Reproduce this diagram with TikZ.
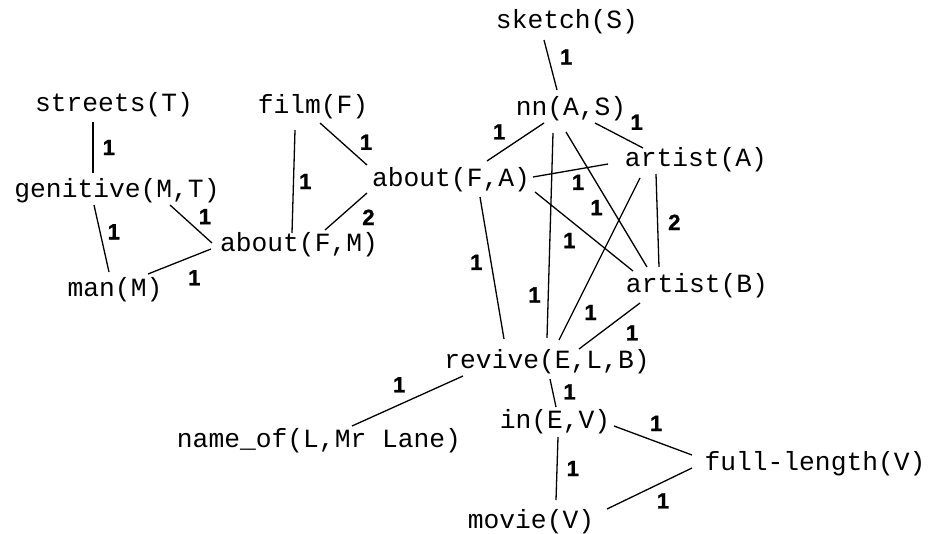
\documentclass[tikz,border=0pt]{standalone}
\usepackage{fontspec}
\newfontfamily\predfont{Liberation Mono}
\newfontfamily\wtfont{Liberation Sans Bold}[FakeBold=1.2]
\usepackage{tikz}

\begin{document}
\begin{tikzpicture}[x=1pt, y=-1pt, line width=1.3pt]

\tikzstyle{pred} = [font=\predfont\fontsize{26.3}{30}\selectfont, inner sep=0pt, text height=18.4pt, text depth=3.9pt]
\tikzstyle{wt} = [font=\wtfont\fontsize{22}{26}\selectfont, inner sep=1pt]

\useasboundingbox (0,0) rectangle (931,533);

\node[pred] (1) at (567,21) {sketch(S)};
\node[pred] (2) at (571,108) {nn(A,S)};
\node[pred] (3) at (696,159) {artist(A)};
\node[pred] (4) at (451,179) {about(F,A)};
\node[pred] (5) at (697,285) {artist(B)};
\node[pred] (6) at (547,361) {revive(E,L,B)};
\node[pred] (7) at (313,106) {film(F)};
\node[pred] (8) at (299,244) {about(F,M)};
\node[pred] (9) at (114,104) {streets(T)};
\node[pred] (10) at (117,190) {genitive(M,T)};
\node[pred] (11) at (115,289) {man(M)};
\node[pred] (12) at (319,440) {name\_of(L,Mr Lane)};
\node[pred] (13) at (555,421) {in(E,V)};
\node[pred] (14) at (815,463) {full-length(V)};
\node[pred] (15) at (531,521) {movie(V)};

\draw ([shift={(-23,19)}]1.center) -- node[wt, pos=.34, right=10pt] {1} ([shift={(-14,-18)}]2.center);
\draw ([shift={(-27,15)}]2.center) -- node[wt, pos=.58, above left=4pt] {1} ([shift={(36,-18)}]4.center);
\draw ([shift={(24,15)}]2.center) -- node[wt, pos=.58, above right=6pt] {1} ([shift={(-53,-11)}]3.center);
\draw ([shift={(-18,25)}]2.center) -- node[wt, pos=.79, left=6pt] {1} ([shift={(0,-23)}]6.center);
\draw ([shift={(-5,24)}]2.center) -- node[wt, pos=.56, left=7pt] {1} ([shift={(-50,-18)}]5.center);
\draw ([shift={(82,-2)}]4.center) -- node[wt, pos=.6, below=4pt] {1} ([shift={(-88,5)}]3.center);
\draw ([shift={(84,13)}]4.center) -- node[wt, pos=.46, below left=3pt] {1} ([shift={(-64,-14)}]5.center);
\draw ([shift={(29,18)}]4.center) -- node[wt, pos=.46, left=7pt] {1} ([shift={(-43,-22)}]6.center);
\draw ([shift={(-40,15)}]3.center) -- node[wt, pos=.52, right=9pt] {2} ([shift={(-38,-18)}]5.center);
\draw ([shift={(-56,19)}]3.center) -- node[wt, pos=.83, right=10pt] {1} ([shift={(12,-21)}]6.center);
\draw ([shift={(-57,18)}]5.center) -- node[wt, pos=.34, below right=5pt] {1} ([shift={(32,-12)}]6.center);

\draw ([shift={(7,17)}]7.center) -- node[wt, pos=.75, above right=3pt] {1} ([shift={(-84,-14)}]4.center);
\draw ([shift={(-18,24)}]7.center) -- node[wt, pos=.5, right=4pt] {1} ([shift={(-7,-11)}]8.center);
\draw ([shift={(26,-14)}]8.center) -- node[wt, pos=.73, below right=5pt] {2} ([shift={(-84,14)}]4.center);
\draw ([shift={(-21,18)}]9.center) -- node[wt, pos=.5, right=8pt] {1} ([shift={(-24,-17)}]10.center);
\draw ([shift={(-23,15)}]10.center) -- node[wt, pos=.4, right=6pt] {1} ([shift={(-6,-17)}]11.center);
\draw ([shift={(53,15)}]10.center) -- node[wt, pos=.6, above right=2pt] {1} ([shift={(-87,-1)}]8.center);
\draw ([shift={(33,-15)}]11.center) -- node[wt, pos=.5, below right=7pt] {1} ([shift={(-88,5)}]8.center);

\draw ([shift={(-84,15)}]6.center) -- node[wt, pos=.46, above left=5pt] {1} ([shift={(33,-14)}]12.center);
\draw ([shift={(3,18)}]6.center) -- node[wt, pos=.46, right=9pt] {1} ([shift={(1,-14)}]13.center);
\draw ([shift={(59,5)}]13.center) -- node[wt, pos=.54, above=9pt] {1} ([shift={(-123,-8)}]14.center);
\draw ([shift={(3,16)}]13.center) -- node[wt, pos=.5, right=8pt] {1} ([shift={(25,-21)}]15.center);
\draw ([shift={(76,-12)}]15.center) -- node[wt, pos=.52, below right=4pt] {1} ([shift={(-123,5)}]14.center);
\end{tikzpicture}
\end{document}
